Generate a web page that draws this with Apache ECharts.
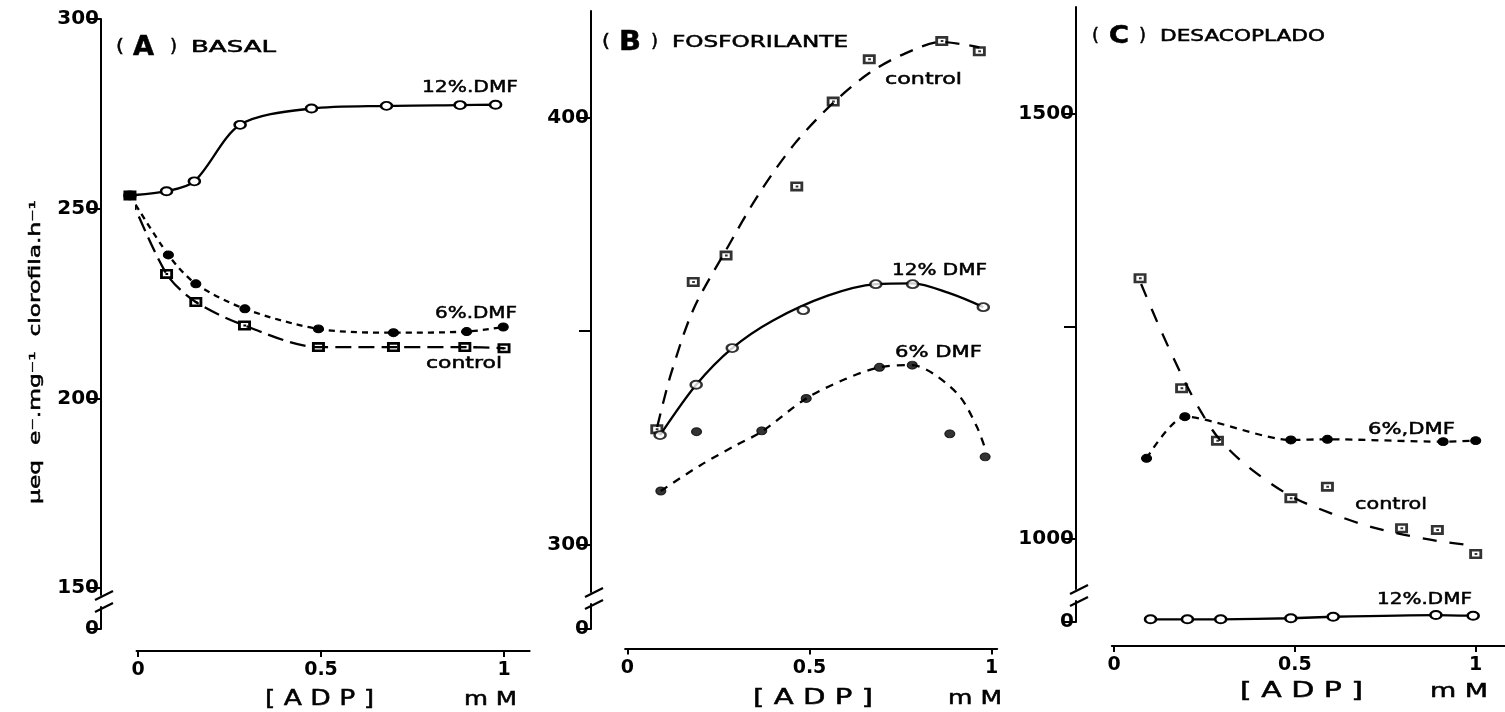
<!DOCTYPE html>
<html><head><meta charset="utf-8">
<script src="https://cdn.jsdelivr.net/npm/echarts@6/dist/echarts.min.js"></script>
<style>html,body{margin:0;padding:0;background:#fff}#c{width:1505px;height:712px}</style>
</head><body><div id="c"></div>
<script>
// ================= DATA =================
// Panel A — BASAL
const aX12 = [-0.022, 0.078, 0.154, 0.279, 0.474, 0.679, 0.880, 0.977];
const aY12 = [253.5, 254.6, 257.2, 272.1, 276.4, 277.1, 277.3, 277.4];
const aX6  = [-0.022, 0.083, 0.158, 0.292, 0.493, 0.698, 0.898, 0.998];
const aY6  = [253.5, 237.8, 230.2, 223.6, 218.3, 217.3, 217.6, 218.8];
const aXc  = [-0.022, 0.078, 0.158, 0.291, 0.493, 0.698, 0.893, 1.000];
const aYc  = [253.5, 232.8, 225.4, 219.2, 213.5, 213.5, 213.5, 213.2];

// Panel B — FOSFORILANTE (measured points)
const bXc  = [0.081, 0.181, 0.271, 0.465, 0.565, 0.664, 0.863, 0.966];
const bYc  = [327.0, 361.5, 367.7, 383.9, 403.8, 413.7, 418.0, 415.6];
const bX12 = [0.090, 0.189, 0.288, 0.483, 0.682, 0.783, 0.977];
const bY12 = [325.6, 337.4, 346.0, 354.9, 361.0, 361.0, 355.6];
const bX6  = [0.092, 0.190, 0.369, 0.491, 0.692, 0.782, 0.885, 0.982];
const bY6  = [312.5, 326.4, 326.6, 334.2, 341.5, 342.0, 325.9, 320.5];
// Panel B — drawn fitted curves
const bCurveXc  = [0.082, 0.120, 0.181, 0.271, 0.360, 0.460, 0.565, 0.664, 0.760, 0.863, 0.966];
const bCurveYc  = [327.5, 340.0, 355.0, 369.0, 382.0, 394.0, 403.5, 410.5, 415.0, 417.8, 416.5];
const bCurveX12 = [0.090, 0.189, 0.288, 0.400, 0.550, 0.682, 0.783, 0.880, 0.977];
const bCurveY12 = [325.6, 337.4, 346.0, 352.5, 358.3, 361.0, 361.2, 359.0, 355.6];
const bCurveX6  = [0.092, 0.200, 0.300, 0.369, 0.491, 0.600, 0.692, 0.782, 0.840, 0.913, 0.959, 0.982];
const bCurveY6  = [312.5, 318.5, 323.3, 326.4, 334.2, 338.8, 341.5, 342.0, 340.0, 334.6, 327.6, 322.5];

// Panel C — DESACOPLADO
const cXc  = [0.072, 0.187, 0.286, 0.489, 0.590, 0.795, 0.894, 1.000];
const cYc  = [1306.8, 1177.3, 1115.6, 1047.7, 1061.4, 1012.4, 1010.4, 982.1];
const cCurveXc = [0.075, 0.130, 0.190, 0.240, 0.290, 0.370, 0.490, 0.600, 0.710, 0.800, 0.900, 1.000];
const cCurveYc = [1300, 1245, 1190, 1150, 1118, 1085, 1050, 1030, 1014, 1005, 997, 992];
const cX6  = [0.090, 0.196, 0.489, 0.590, 0.910, 1.000];
const cY6  = [1094.8, 1143.8, 1116.4, 1117.2, 1114.4, 1115.6];
const cX12 = [0.101, 0.203, 0.295, 0.489, 0.606, 0.890, 0.993];
const cY12 = [3.2, 3.2, 3.2, 4.4, 6.2, 8.2, 7.4];

// Tick values / labels
const xTicks    = [0, 0.5, 1];
const aYTicks   = [150, 200, 250, 300];
const aYLabels  = [150, 200, 250, 300];
const bYTicks   = [300, 350, 400];
const bYLabels  = [300, 400];
const cYTicks   = [1000, 1250, 1500];
const cYLabels  = [1000, 1500];
const zeroTicks = [0];

// ================= LAYOUT (pixel anchors measured on the figure) =================
const W = 1505;
const LA = { x0:138, x1:504, xMin:-0.004, xMax:1.07, axisX:101,
  main:{ v1:300, p1:19, v2:150, p2:588, top:19, bottom:595 }, zero:{ p0:629, top:607 }, xAxisY:651 };
const LB = { x0:627.3, x1:991.7, xMin:-0.006, xMax:1.015, axisX:591,
  main:{ v1:400, p1:117.8, v2:300, p2:544.3, top:11, bottom:592 }, zero:{ p0:629, top:604 }, xAxisY:648.4 };
const LC = { x0:1114, x1:1475.7, xMin:-0.006, xMax:1.08, axisX:1076,
  main:{ v1:1500, p1:114.2, v2:1000, p2:538.8, top:7, bottom:589 }, zero:{ p0:622, top:601 }, xAxisY:646 };

const FF = '"DejaVu Sans", "Liberation Sans", sans-serif';
const grids = [], xAxes = [], yAxes = [], graphics = [];
const numFmt = function (v) { return String(v); };

function buildPanel(P, yTicks, yLabels) {
  const span = P.x1 - P.x0;
  const left = P.x0 + P.xMin * span, rightPx = P.x0 + P.xMax * span;
  const ppu = (P.main.p2 - P.main.p1) / (P.main.v1 - P.main.v2);
  const yMax = P.main.v1 + (P.main.p1 - P.main.top) / ppu;
  const yMin = P.main.v2 - (P.main.bottom - P.main.p2) / ppu;
  const zMax = (P.zero.p0 - P.zero.top) / ppu;
  const gi = grids.length;
  const common = { left: left, right: W - rightPx, containLabel: false, outerBoundsMode: 'none' };
  grids.push(Object.assign({ top: P.main.top, height: P.main.bottom - P.main.top }, common));
  grids.push(Object.assign({ top: P.zero.top, height: P.zero.p0 - P.zero.top }, common));
  xAxes.push({ gridIndex: gi, type: 'value', min: P.xMin, max: P.xMax, show: false });
  xAxes.push({ gridIndex: gi + 1, type: 'value', min: P.xMin, max: P.xMax, position: 'bottom',
    offset: P.xAxisY - P.zero.p0,
    axisLine: { show: true, onZero: false, lineStyle: { color: '#000', width: 2 } },
    axisTick: { show: true, customValues: xTicks, length: 6, lineStyle: { color: '#000', width: 2 } },
    axisLabel: { show: true, customValues: xTicks, margin: 10, color: '#000', fontSize: 19, fontWeight: 'bold', fontFamily: FF, formatter: numFmt },
    splitLine: { show: false } });
  const yBase = {
    type: 'value', offset: left - P.axisX, position: 'left',
    axisLine: { show: true, onZero: false, lineStyle: { color: '#000', width: 2 } },
    axisTick: { show: true, length: 12, lineStyle: { color: '#000', width: 2 } },
    axisLabel: { show: true, margin: 2, color: '#000', fontSize: 20, fontWeight: 'bold', fontFamily: FF, formatter: numFmt },
    splitLine: { show: false } };
  yAxes.push(Object.assign({}, yBase, { gridIndex: gi, min: yMin, max: yMax,
    axisTick: Object.assign({}, yBase.axisTick, { customValues: yTicks }),
    axisLabel: Object.assign({}, yBase.axisLabel, { customValues: yLabels }) }));
  yAxes.push(Object.assign({}, yBase, { gridIndex: gi + 1, min: 0, max: zMax,
    axisTick: Object.assign({}, yBase.axisTick, { customValues: zeroTicks }),
    axisLabel: Object.assign({}, yBase.axisLabel, { customValues: zeroTicks }) }));
  // axis-break slashes
  [P.main.bottom, P.zero.top].forEach(function (yy) {
    graphics.push({ type: 'line', silent: true, z: 60,
      shape: { x1: P.axisX - 6, y1: yy + 5, x2: P.axisX + 12, y2: yy - 4 },
      style: { stroke: '#000', lineWidth: 2.2 } });
  });
  return gi;
}

const gA = buildPanel(LA, aYTicks, aYLabels);
const gB = buildPanel(LB, bYTicks, bYLabels);
const gC = buildPanel(LC, cYTicks, cYLabels);

// ================= TEXT =================
const mctx = document.createElement('canvas').getContext('2d');
function fitText(str, size, weight, xL, xR, yC, rot) {
  const font = weight + ' ' + size + 'px "DejaVu Sans"';
  mctx.font = font;
  const w = mctx.measureText(str).width || 1;
  const len = Math.abs(xR - xL);
  const el = { type: 'text', x: rot ? yC : xL, y: rot ? xL : yC, rotation: rot || 0, scaleX: len / w, silent: true, z: 50,
    style: { text: str, font: font, fill: '#000', stroke: '#000', lineWidth: 0.5, align: 'left', verticalAlign: 'middle',
             textAlign: 'left', textVerticalAlign: 'middle' } };
  graphics.push(el);
}
// titles
fitText('(', 17, 'normal', 116, 124, 48); fitText('A', 26, 'bold', 133, 154, 48);
fitText(')', 17, 'normal', 170, 177, 48); fitText('BASAL', 15, 'normal', 191, 276, 48);
fitText('(', 17, 'normal', 602, 610, 43); fitText('B', 26, 'bold', 619, 641, 43);
fitText(')', 17, 'normal', 651, 658, 43); fitText('FOSFORILANTE', 15, 'normal', 672, 848, 43);
fitText('(', 17, 'normal', 1092, 1099, 37); fitText('C', 24, 'bold', 1109, 1129, 37);
fitText(')', 17, 'normal', 1139, 1146, 37); fitText('DESACOPLADO', 15, 'normal', 1160, 1325, 37);
// series labels
fitText('12%.DMF', 16, 'normal', 422, 518, 88);
fitText('6%.DMF', 16, 'normal', 435, 517, 314);
fitText('control', 16, 'normal', 426, 502, 364);
fitText('control', 16, 'normal', 885, 962, 80);
fitText('12% DMF', 16, 'normal', 892, 987, 271);
fitText('6% DMF', 16, 'normal', 895, 982, 353);
fitText('6%,DMF', 16, 'normal', 1368, 1455, 430);
fitText('control', 16, 'normal', 1355, 1427, 505);
fitText('12%.DMF', 16, 'normal', 1377, 1472, 600);
// axis names
fitText('[ A D P ]', 21, 'normal', 265, 374, 700); fitText('m M', 19, 'normal', 464, 517, 700);
fitText('[ A D P ]', 21, 'normal', 753, 873, 699); fitText('m M', 19, 'normal', 948, 1002, 699);
fitText('[ A D P ]', 21, 'normal', 1240, 1363, 692); fitText('m M', 19, 'normal', 1430, 1488, 692);
// rotated y-axis name (reads bottom to top): from y=504 up to y=200, centred at x=36
fitText('\u00B5eq  e\u207B.mg\u207B\u00B9  clorofila.h\u207B\u00B9', 16, 'normal', 504, 200, 36, Math.PI / 2);

// ================= SERIES =================
function zip(xs, ys) { return xs.map(function (x, i) { return [x, ys[i]]; }); }
const SQ = 'path://M0,0H12V10H0Z M2.6,2.6V7.4H9.4V2.6Z M5,4H7.5V6H5Z';
const openC = { symbol: 'circle', symbolSize: [11, 8], itemStyle: { color: '#fff', borderColor: '#000', borderWidth: 2.2 } };
const fillC = { symbol: 'circle', symbolSize: [10, 8], itemStyle: { color: '#000', borderColor: '#000', borderWidth: 1 } };
const sqr   = { symbol: SQ, symbolSize: [13, 10], itemStyle: { color: '#000' } };
function lineS(gi, data, dash, mk, smooth) {
  return Object.assign({ type: 'line', xAxisIndex: gi, yAxisIndex: gi, data: data, smooth: smooth,
    clip: false, showSymbol: !!mk, symbol: 'none', z: 2,
    lineStyle: { color: '#000', width: 2.3, type: dash, cap: 'butt' } }, mk || {}, mk ? { z: 3 } : {});
}
function scat(gi, data, mk) {
  return Object.assign({ type: 'scatter', xAxisIndex: gi, yAxisIndex: gi, data: data, clip: false, z: 4 }, mk);
}
const series = [
  lineS(gA, zip(aX12, aY12), 'solid', openC, 0.3),
  lineS(gA, zip(aX6, aY6), [6, 5], fillC, 0.3),
  lineS(gA, zip(aXc, aYc), [16, 7], sqr, 0.3),

  lineS(gB, zip(bCurveXc, bCurveYc), [14, 10], null, 0.3),
  lineS(gB, zip(bCurveX12, bCurveY12), 'solid', null, 0.3),
  lineS(gB, zip(bCurveX6, bCurveY6), [8, 7], null, 0.3),
  scat(gB, zip(bXc, bYc), sqr),
  scat(gB, zip(bX12, bY12), openC),
  scat(gB, zip(bX6, bY6), fillC),

  lineS(gC, zip(cCurveXc, cCurveYc), [14, 13], null, 0.3),
  scat(gC, zip(cXc, cYc), sqr),
  lineS(gC, zip(cX6, cY6), [7, 6], fillC, 0.25),
  lineS(gC + 1, zip(cX12, cY12), 'solid', openC, 0.2)
];

const chart = echarts.init(document.getElementById('c'), null, { renderer: 'canvas' });
chart.setOption({
  backgroundColor: '#fff', animation: false,
  grid: grids, xAxis: xAxes, yAxis: yAxes, series: series, graphic: graphics
});
</script></body></html>
